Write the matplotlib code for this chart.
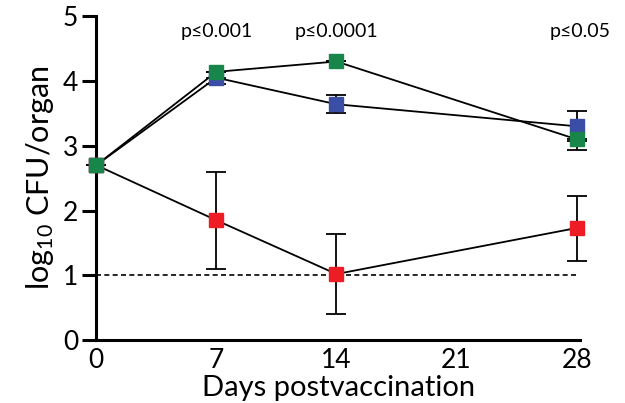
import matplotlib
matplotlib.use("Agg")
import matplotlib.pyplot as plt
import numpy as np

plt.rcParams['font.family'] = ['Lato', 'DejaVu Sans']
plt.rcParams['mathtext.fontset'] = 'custom'
plt.rcParams['mathtext.rm'] = 'Lato'
plt.rcParams['mathtext.it'] = 'Lato'

# data
days = [0, 7, 14, 28]
green = [2.70, 4.14, 4.30, 3.10]
green_err_lo = [0, 0, 0, 0.17]
green_err_hi = [0, 0, 0, 0.0]
blue = [2.70, 4.05, 3.64, 3.30]
blue_err_lo = [0, 0.10, 0.14, 0.22]
blue_err_hi = [0, 0.0, 0.14, 0.24]
red = [2.70, 1.85, 1.02, 1.73]
red_err_lo = [0, 0.75, 0.62, 0.51]
red_err_hi = [0, 0.75, 0.62, 0.49]
detect_limit = 1.0
p_days = [7, 14, 28.2]
p_labels = ["p≤0.001", "p≤0.0001", "p≤0.05"]

fig = plt.figure(figsize=(6.25, 4.03), dpi=100)
ax = fig.add_axes([0.154, 0.156, 0.774, 0.804])

ax.plot([0, 28], [detect_limit, detect_limit], color='black', linestyle='--',
        linewidth=1.2, dashes=(3, 2), zorder=1)

series = [
    (red, red_err_lo, red_err_hi, "#ee1c25"),
    (blue, blue_err_lo, blue_err_hi, "#3b4ea6"),
    (green, green_err_lo, green_err_hi, "#18864a"),
]
for vals, lo, hi, col in series:
    ax.errorbar(days, vals, yerr=[lo, hi], fmt='none', ecolor='black',
                elinewidth=1.3, capsize=7, capthick=1.3, zorder=2, clip_on=False)
    ax.plot(days, vals, color='black', linewidth=1.3, zorder=3, clip_on=False)
    ax.plot(days, vals, linestyle='none', marker='s', markersize=10,
            color=col, zorder=4, clip_on=False)

for d, lab in zip(p_days, p_labels):
    ax.text(d, 4.76, lab, ha='center', va='center', fontsize=14)

ax.set_xlim(0, 28.2)
ax.set_ylim(0, 5)
ax.set_xticks([0, 7, 14, 21, 28])
ax.set_yticks([0, 1, 2, 3, 4, 5])

ax.spines['top'].set_visible(False)
ax.spines['right'].set_visible(False)
for s in ['left', 'bottom']:
    ax.spines[s].set_linewidth(2.2)
ax.tick_params(axis='y', length=10, width=2.2, labelsize=19, pad=3)
ax.tick_params(axis='x', length=0, width=2.2, labelsize=19, pad=6)

ax.set_xlabel("Days postvaccination", fontsize=21, labelpad=1)
ax.set_ylabel("log$_{10}$ CFU/organ", fontsize=22, labelpad=5)

fig.savefig("out.png", dpi=100)
